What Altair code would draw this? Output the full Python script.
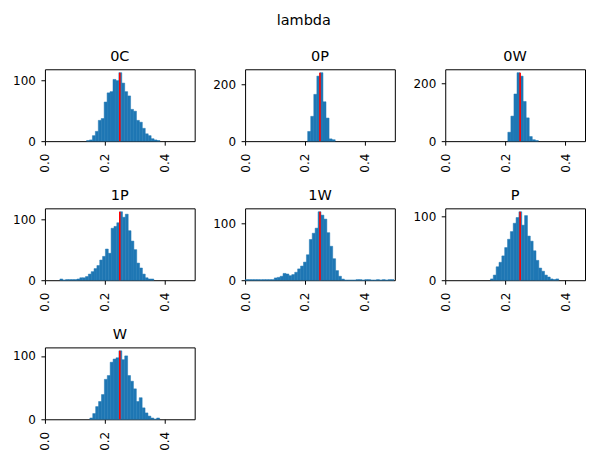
import altair as alt
import pandas as pd

panel_names = ["0C", "0P", "0W", "1P", "1W", "P", "W"]
bin_starts = [0.139, 0.209, 0.209, 0.05, 0.0, 0.151, 0.15]
bin_widths = [0.0098, 0.0102, 0.0102, 0.0095, 0.00975, 0.0095, 0.0097]

counts_0C = [1, 2, 9, 16, 34, 37, 64, 79, 81, 101, 99, 112, 95, 81, 74, 52, 49, 34, 31, 21, 12, 9, 4, 2, 1]
counts_0P = [34, 87, 164, 228, 240, 138, 81, 8, 5]
counts_0W = [31, 87, 164, 238, 226, 138, 81, 16, 5, 2]
counts_1P = [2, 0, 1, 1, 1, 1, 2, 4, 4, 6, 10, 14, 19, 24, 33, 39, 51, 44, 85, 88, 94, 112,
             103, 108, 81, 64, 50, 28, 20, 10, 4, 2, 2]
counts_1W = [1, 1, 1, 1, 1, 1, 1, 1, 1, 1,
             4, 5, 7, 12, 11, 8, 10, 14, 20, 25, 32, 45, 72, 83, 92, 121, 115, 108, 84, 60, 38, 17, 7, 2,
             0, 0, 0, 0, 1, 1, 0, 1, 1, 0, 0, 1, 0, 1, 0, 1, 1]
counts_P = [2, 8, 21, 28, 38, 51, 64, 76, 89, 98, 107, 86, 101, 69, 61, 46, 31, 19, 14, 8, 5, 2, 1, 2]
counts_W = [2, 9, 20, 28, 39, 63, 69, 90, 95, 97, 108, 94, 100, 69, 60, 48, 28, 34, 18, 10, 5, 2, 0, 2]
all_counts = [counts_0C, counts_0P, counts_0W, counts_1P, counts_1W, counts_P, counts_W]

y_tick_values = [[0, 100], [0, 200], [0, 200], [0, 100], [0, 100], [0, 100], [0, 100]]
x_tick_values = [0.0, 0.2, 0.4]
x_limits = [0.0, 0.5]
true_lambda = 0.25

FONT = "DejaVu Sans"
BLUE = "#1f77b4"
PANEL_W = 150
PANEL_H = 72
# the right-hand column is cut by the window edge in the reference
CUT_W = 140
panel_widths = [PANEL_W, PANEL_W, CUT_W, PANEL_W, PANEL_W, CUT_W, PANEL_W]


def panel(name, start, width, cnts, yticks, pw):
    df = pd.DataFrame({
        "x0": [start + i * width for i in range(len(cnts))],
        "x1": [start + (i + 1) * width for i in range(len(cnts))],
        "count": cnts,
        "base": [0] * len(cnts),
    })
    top = max(cnts) * 1.05
    xmax = x_limits[0] + (x_limits[1] - x_limits[0]) * pw / PANEL_W
    xs = alt.Scale(domain=[x_limits[0], xmax], nice=False, zero=False)
    ys = alt.Scale(domain=[0, top], nice=False)
    bars = alt.Chart(df).mark_rect(color=BLUE, stroke=BLUE, strokeWidth=0.5).encode(
        x=alt.X("x0:Q", scale=xs, title=None,
                axis=alt.Axis(values=x_tick_values, format=".1f", labelAngle=270,
                              labelFlush=False)),
        x2="x1:Q",
        y=alt.Y("count:Q", scale=ys, title=None,
                axis=alt.Axis(values=yticks, format="d", labelFlush=False)),
        y2="base:Q",
    )
    rdf = pd.DataFrame({"x": [true_lambda], "y0": [0], "y1": [max(cnts)]})
    rule = alt.Chart(rdf).mark_rule(color="red", strokeWidth=1.6).encode(
        x=alt.X("x:Q", title=None),
        y=alt.Y("y0:Q", title=None),
        y2="y1:Q",
    )
    return alt.layer(bars, rule).properties(
        width=pw, height=PANEL_H,
        title=alt.TitleParams(name, fontSize=14.5, font=FONT, fontWeight="normal",
                              color="black", offset=5),
    )


charts = [panel(n, s, w, c, t, pw) for n, s, w, c, t, pw in
          zip(panel_names, bin_starts, bin_widths, all_counts, y_tick_values, panel_widths)]

row1 = alt.hconcat(*charts[0:3], spacing=50.5, bounds="flush")
row2 = alt.hconcat(*charts[3:6], spacing=50.5, bounds="flush")
row3 = alt.hconcat(charts[6], spacing=50.5, bounds="flush")

chart = alt.vconcat(
    row1, row2, row3, spacing=PANEL_H + 67.3, bounds="flush",
    title=alt.TitleParams("lambda", fontSize=14.5, font=FONT, fontWeight="normal",
                          color="black", anchor="middle", dx=5, offset=20),
).properties(
    padding={"left": 4, "top": 4, "right": 0, "bottom": 0}
).configure_view(
    stroke="black", strokeWidth=1
).configure_axis(
    domain=False, grid=False, tickColor="black", tickSize=4, tickWidth=1,
    labelColor="black", labelFont=FONT, labelFontSize=12,
).configure_axisX(
    labelPadding=8
).configure_axisY(
    labelPadding=5.5
)

chart.save("out.html", embed_options={"renderer": "svg", "actions": False})
